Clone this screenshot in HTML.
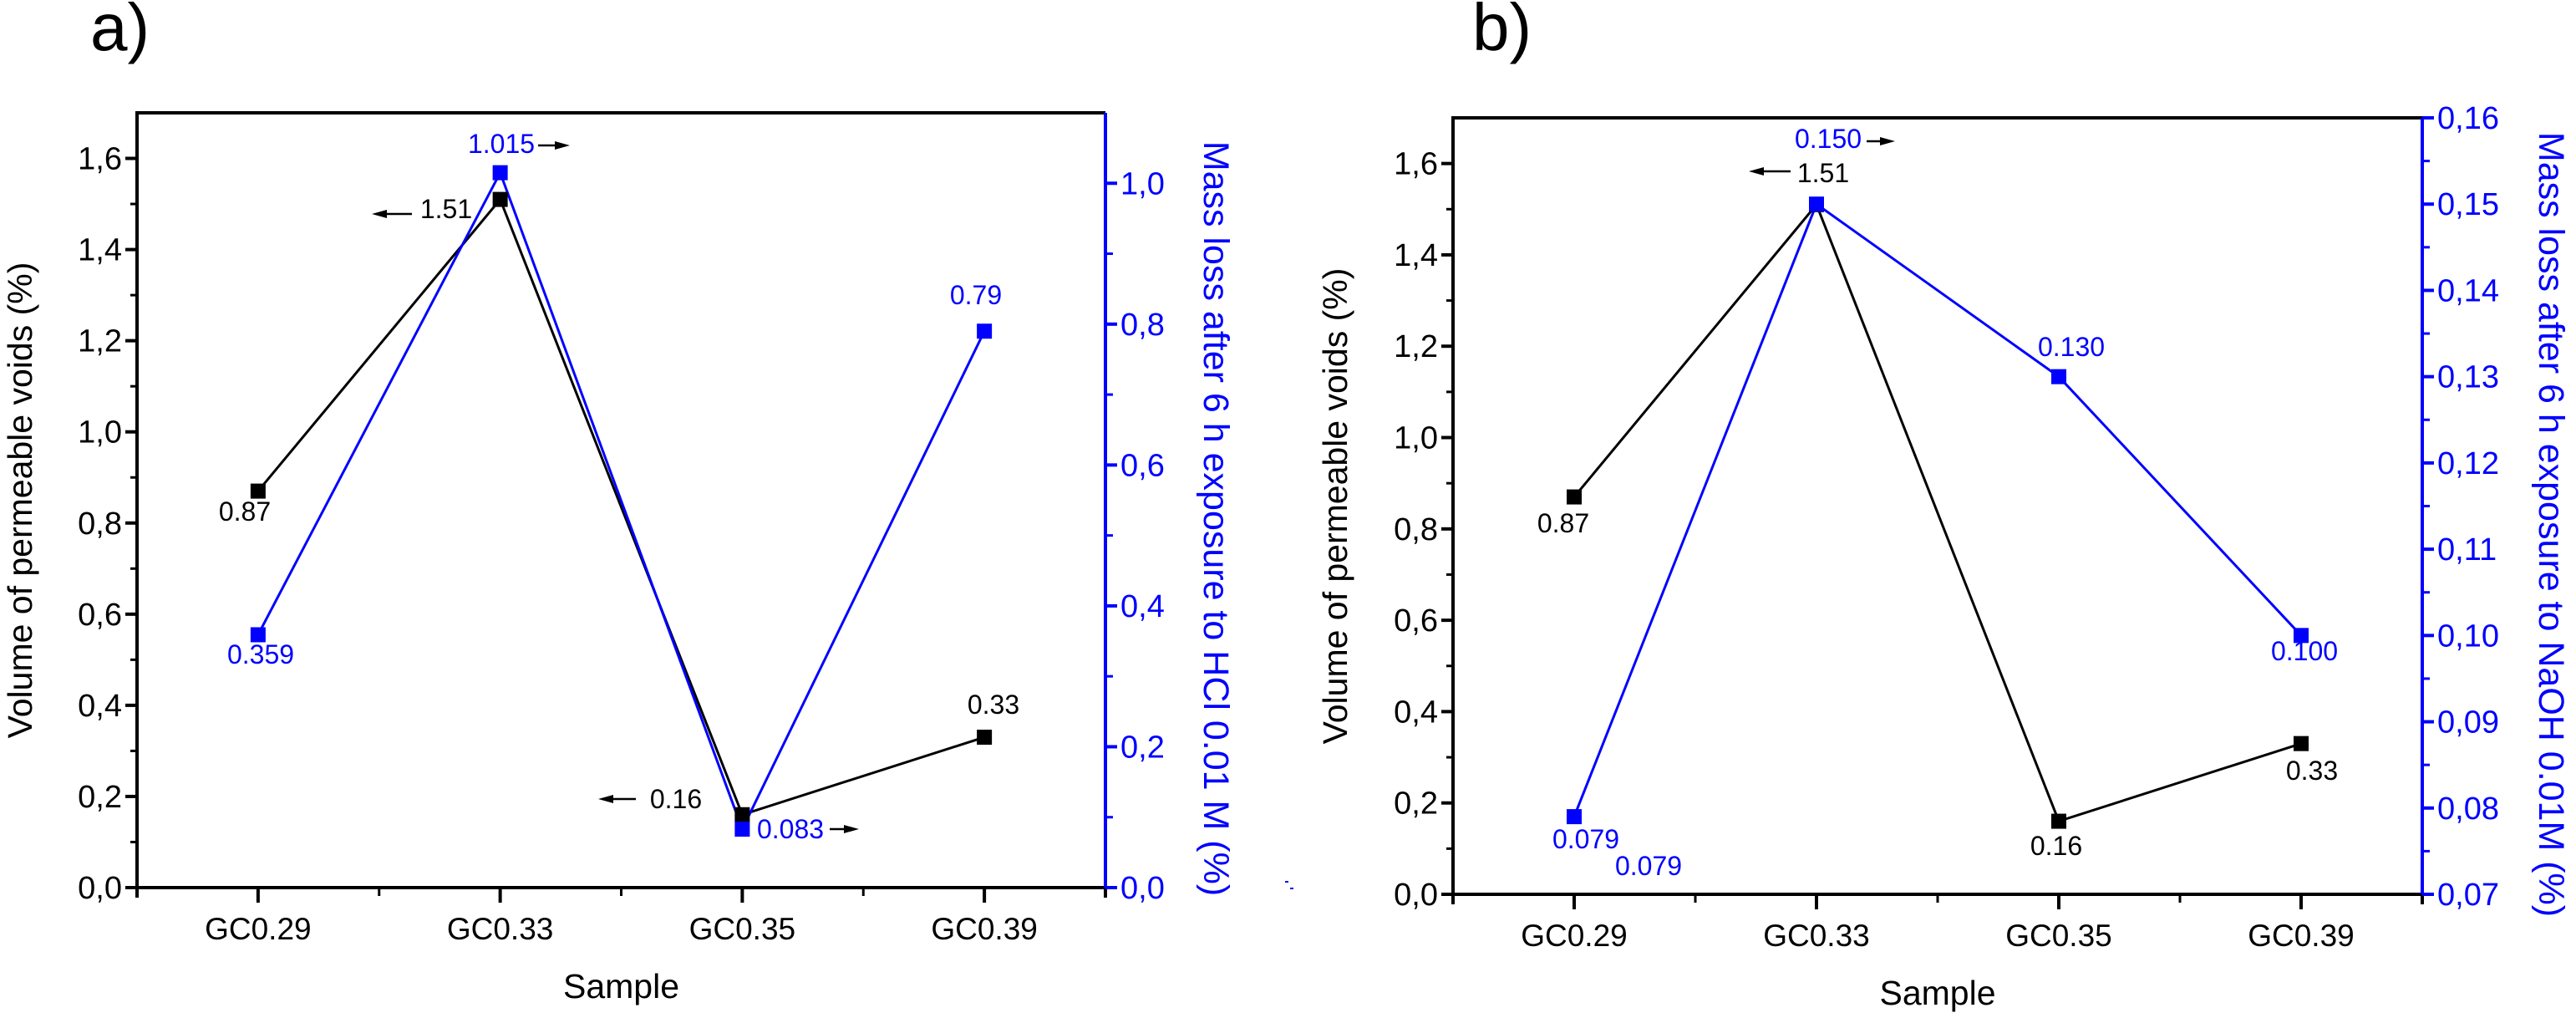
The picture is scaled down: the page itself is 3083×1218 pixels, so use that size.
<!DOCTYPE html>
<html><head><meta charset="utf-8"><style>
html,body{margin:0;padding:0;background:#fff;}
svg{display:block;font-family:"Liberation Sans",Arial,sans-serif;}
</style></head><body>
<svg id="fig" width="3083" height="1218" viewBox="0 0 3083 1218" xmlns="http://www.w3.org/2000/svg"></svg>
<script>
const categories = ["GC0.29","GC0.33","GC0.35","GC0.39"];
const voidsA = [0.87,1.51,0.16,0.33];
const massA = [0.359,1.015,0.083,0.79];
const voidsB = [0.87,1.51,0.16,0.33];
const massB = [0.079,0.150,0.130,0.100];
const leftTicks = [0,0.2,0.4,0.6,0.8,1.0,1.2,1.4,1.6];
const rightTicksA = [0,0.2,0.4,0.6,0.8,1.0];
const rightTicksB = [0.07,0.08,0.09,0.10,0.11,0.12,0.13,0.14,0.15,0.16];

const NS="http://www.w3.org/2000/svg";
const svg=document.getElementById('fig');
function mk(tag,attrs,parent,text){
  const e=document.createElementNS(NS,tag);
  for(const k in attrs)e.setAttribute(k,attrs[k]);
  if(text!==undefined)e.textContent=text;
  (parent||svg).appendChild(e);return e;
}
function fmt(v,d){return v.toFixed(d).replace('.',',');}

function panel(cfg){
  const g=mk('g',{});
  
  
  const L=cfg.L,R=cfg.R,T=cfg.T,B=cfg.B;
  const yL=v=>B-(v-0)/(1.7)*(B-T);
  const yR=v=>B-(v-cfg.rMin)/(cfg.rMax-cfg.rMin)*(B-T);
  const step=(R-L)/categories.length;
  const xC=i=>L+step*(i+0.5);
  const lt=mk('text',{x:cfg.letterX,y:60,'font-size':80,fill:'#000'},g,cfg.letter);
  
  
  const top=mk('line',{x1:L-2,y1:T,x2:R,y2:T,stroke:'#000','stroke-width':4},g);
  
  
  const xa=mk('line',{x1:L-12,y1:B,x2:R,y2:B,stroke:'#000','stroke-width':4},g);
  
  
  const ya=mk('line',{x1:L,y1:T,x2:L,y2:B+12,stroke:'#000','stroke-width':4},g);
  
  
  const ra=mk('line',{x1:R,y1:T,x2:R,y2:B,stroke:'#0000ff','stroke-width':4},g);
  
  
  mk('line',{x1:R,y1:B,x2:R,y2:B+12,stroke:'#000','stroke-width':4},g);
  leftTicks.forEach(v=>{
    mk('line',{x1:L-14,y1:yL(v),x2:L,y2:yL(v),stroke:'#000','stroke-width':4},g);
    const t=mk('text',{x:L-18,y:yL(v)+13,'font-size':38,'text-anchor':'end',fill:'#000'},g,fmt(v,1));
    
    
    if(v<1.6)mk('line',{x1:L-8,y1:yL(v+0.1),x2:L,y2:yL(v+0.1),stroke:'#000','stroke-width':3},g);
  });
  cfg.rTicks.forEach((v,i)=>{
    mk('line',{x1:R,y1:yR(v),x2:R+14,y2:yR(v),stroke:'#0000ff','stroke-width':4},g);
    const t=mk('text',{x:R+18,y:yR(v)+13,'font-size':38,fill:'#0000ff'},g,fmt(v,cfg.rDec));
    
    
    const m=v+cfg.rMinor;
    if(m<cfg.rMax)mk('line',{x1:R,y1:yR(m),x2:R+9,y2:yR(m),stroke:'#0000ff','stroke-width':3},g);
  });
  categories.forEach((c,i)=>{
    mk('line',{x1:xC(i),y1:B,x2:xC(i),y2:B+18,stroke:'#000','stroke-width':4},g);
    if(i<categories.length-1)mk('line',{x1:L+step*(i+1),y1:B,x2:L+step*(i+1),y2:B+10,stroke:'#000','stroke-width':3},g);
    const t=mk('text',{x:xC(i),y:B+62,'font-size':37,'text-anchor':'middle',fill:'#000'},g,c);
    
    
  });
  const xt=mk('text',{x:(L+R)/2,y:B+132,'font-size':41,'text-anchor':'middle',fill:'#000'},g,'Sample');
  
  
  const cy=(T+B)/2;
  const lt2=mk('text',{x:0,y:0,'font-size':41,'text-anchor':'middle',fill:'#000',transform:`translate(${cfg.lTitleX},${cy}) rotate(-90)`},g,'Volume of permeable voids (%)');
  
  
  const rt=mk('text',{x:0,y:0,'font-size':43,'text-anchor':'middle',fill:'#0000ff',transform:`translate(${cfg.rTitleX},${cy+22}) rotate(90)`},g,cfg.rTitle);
  
  
  const pb=cfg.voids.map((v,i)=>xC(i)+','+yL(v)).join(' ');
  const lb=mk('polyline',{points:pb,fill:'none',stroke:'#000','stroke-width':3},g);
  
  
  const pm=cfg.mass.map((v,i)=>xC(i)+','+yR(v)).join(' ');
  const lm=mk('polyline',{points:pm,fill:'none',stroke:'#0000ff','stroke-width':3},g);
  
  
  cfg.voids.forEach((v,i)=>{
    const r=mk('rect',{x:xC(i)-9,y:yL(v)-9,width:18,height:18,fill:'#000'},g);
    
    
  });
  cfg.mass.forEach((v,i)=>{
    const r=mk('rect',{x:xC(i)-9,y:yR(v)-9,width:18,height:18,fill:'#0000ff'},g);
    
    
  });
  cfg.labels.forEach(a=>{
    const t=mk('text',{x:a[0],y:a[1],'font-size':32,'text-anchor':a[3]||'middle',fill:a[4]||'#000'},g,a[2]);
    
    
  });
  cfg.arrows.forEach(a=>{
    const [x1,x2,y]=a; const dir=x2>x1?1:-1;
    mk('line',{x1:x1,y1:y,x2:x2-dir*14,y2:y,stroke:'#000','stroke-width':2.5},g);
    const ar=mk('polygon',{points:`${x2},${y} ${x2-dir*18},${y-5} ${x2-dir*18},${y+5}`,fill:'#000'},g);
    
    
  });
  mk('rect',{x:cfg.dotX,y:cfg.dotY,width:4,height:2,fill:'#0000ff'},g);
}

const BL='#0000ff';
panel({name:'panel-a',letter:'a)',letterX:108,L:164,R:1323,T:135,B:1062,rMin:0,rMax:1.1,rTicks:rightTicksA,rDec:1,rMinor:0.1,
  voids:voidsA,mass:massA,lTitleX:38,rTitleX:1441,rTitle:'Mass loss after 6 h exposure to HCl 0.01 M (%)',
  labels:[[600,183,'1.015','middle',BL],[534,261,'1.51'],[293,623,'0.87'],[312,794,'0.359','middle',BL],
    [809,967,'0.16'],[946,1003,'0.083','middle',BL],[1168,364,'0.79','middle',BL],[1189,854,'0.33']],
  arrows:[[644,682,174],[493,445,256],[761,716,956],[993,1028,992]],dotX:1544,dotY:1062});
panel({name:'panel-b',letter:'b)',letterX:1762,L:1739,R:2899,T:141,B:1070,rMin:0.07,rMax:0.16,rTicks:rightTicksB,rDec:2,rMinor:0.005,
  voids:voidsB,mass:massB,lTitleX:1612,rTitleX:3039,rTitle:'Mass loss after 6 h exposure to NaOH 0.01M (%)',
  labels:[[2188,177,'0.150','middle',BL],[2182,218,'1.51'],[1871,637,'0.87'],[2479,426,'0.130','middle',BL],
    [2758,790,'0.100','middle',BL],[2461,1023,'0.16'],[2767,933,'0.33'],[1898,1015,'0.079','middle',BL],[1973,1047,'0.079','middle',BL]],
  arrows:[[2234,2268,169],[2143,2093,205]],dotX:1538,dotY:1054});
</script>
</body></html>
